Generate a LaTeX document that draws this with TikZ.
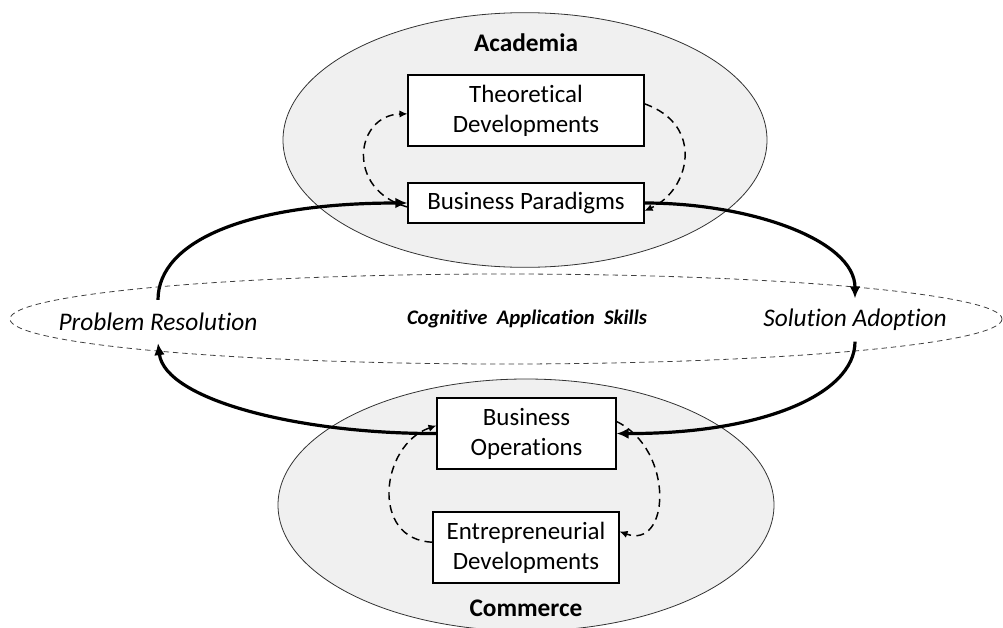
\documentclass[tikz,border=0pt]{standalone}
\usepackage{fontspec}
\setmainfont{Carlito}[Ligatures=NoCommon]
\usetikzlibrary{arrows.meta,shapes.geometric}
\begin{document}
\begin{tikzpicture}[x=0.75pt,y=-0.75pt,
  region/.style={shape=ellipse,draw=black!80,line width=0.6pt,fill=black!6,inner sep=0pt},
  box/.style={draw=black,line width=0.8pt,fill=white,align=center,inner sep=0pt,
     font=\fontsize{18.7}{22.5}\selectfont},
  lbl/.style={font=\fontsize{19}{21}\selectfont\bfseries},
  place/.style={font=\fontsize{19}{21}\selectfont\itshape,minimum height=32pt,inner sep=0pt},
  flow/.style={line width=2.4pt,-{Latex[length=9pt,width=8pt]}},
  loop/.style={line width=1.1pt,dash pattern=on 6pt off 4pt,-{Latex[length=6pt,width=5.5pt]}},
  skills/.style={draw=black!75,line width=0.6pt,dash pattern=on 4pt off 3pt}]
\useasboundingbox (0,0) rectangle (1003,628);
% regions
\node[region,minimum width=363pt,minimum height=191pt] (acad) at (525,140) {};
\node[region,minimum width=372pt,minimum height=189pt] (comm) at (526,505) {};
\draw[skills] (506,319) ellipse [x radius=496, y radius=45];
% labels
\node[lbl] (acadlbl) at (526,43) {Academia};
\node[lbl] (commlbl) at (526,608) {Commerce};
% boxes
\node[box,minimum width=177pt,minimum height=53.25pt] (td) at (526,110.5) {Theoretical\\Developments};
\node[box,minimum width=177pt,minimum height=30pt] (bp) at (526,203) {Business Paradigms};
\node[box,minimum width=134.25pt,minimum height=53.25pt] (bo) at (526.5,433.5) {Business\\Operations};
\node[box,minimum width=139.5pt,minimum height=53.25pt] (ed) at (526,547.5) {Entrepreneurial\\Developments};
% places
\node[place] (pr) at (158,321.5) {Problem Resolution};
\node[place] (sa) at (855,320) {Solution Adoption};
\node[font=\fontsize{15.5}{18}\selectfont\bfseries\itshape] (cas) at (527,319) {Cognitive\ \ Application\ \ Skills};
% main flow
\draw[flow] (pr.north) .. controls (158,240) and (250,203) .. (bp.west);
\draw[flow] (bp.east) .. controls (750,203) and (855,240) .. (sa.north);
\draw[flow] (sa.south) .. controls (855,395) and (760,434) .. (bo.east);
\draw[flow] (bo.west) .. controls (300,434) and (165,400) .. (pr.south);
% loops
\draw[loop] ([yshift=-3]bp.west) .. controls (345,190) and (355,115) .. ([yshift=-2.5]td.west);
\draw[loop] ([yshift=5]td.east) .. controls (705,125) and (690,190) .. ([yshift=-6]bp.east);
\draw[loop] ([yshift=4]ed.west) .. controls (370,540) and (380,445) .. ([yshift=6]bo.west);
\draw[loop] ([yshift=9]bo.east) .. controls (675,450) and (670,550) .. ([yshift=12]ed.east);
\end{tikzpicture}
\end{document}
